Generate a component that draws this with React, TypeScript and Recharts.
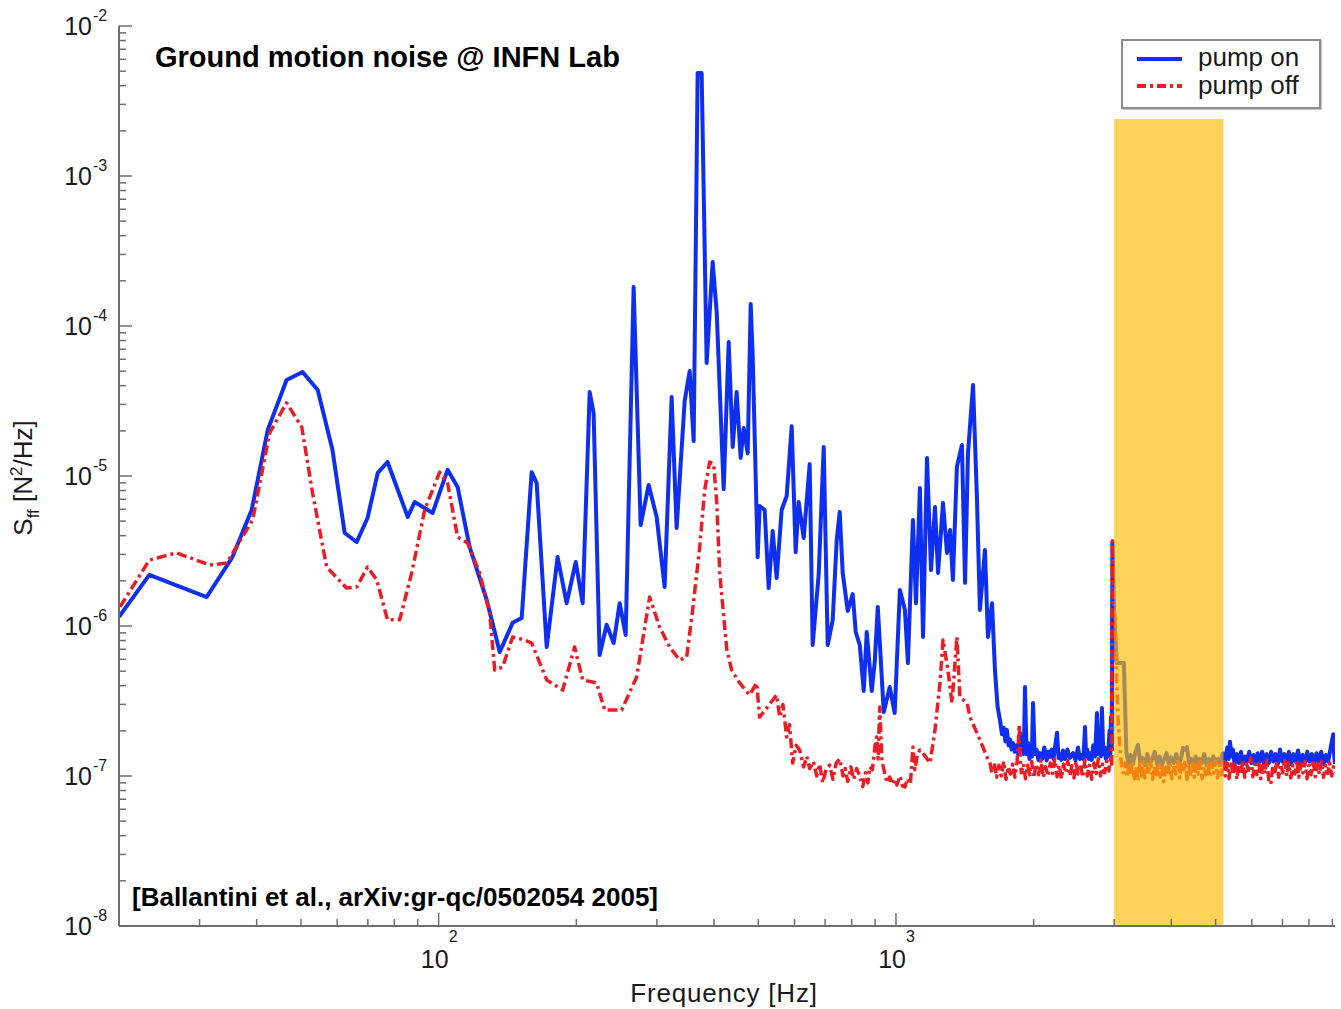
import React from 'react';
import { LineChart, Line, XAxis, YAxis, ReferenceArea, Legend } from 'recharts';

const FONT = '"Liberation Sans", Arial, Helvetica, sans-serif';
const BLUE = '#0f2ff0';
const RED = '#ec1c24';
const AXIS = '#6e6e6e';
const TEXT = '#1a1a1a';

// pump on: [frequency Hz, S_ff N^2/Hz]
const pumpOnPoints: [number, number][] = [
  [20.0, 1.15e-6], [23.3, 2.19e-6], [31.1, 1.56e-6], [35.4, 2.88e-6], [39.0, 5.93e-6], [42.3, 2.03e-5],
  [46.5, 4.37e-5], [50.4, 4.94e-5], [54.4, 3.74e-5], [58.6, 1.49e-5], [62.3, 4.17e-6], [66.2, 3.63e-6],
  [69.9, 5.25e-6], [73.6, 1.05e-5], [77.3, 1.24e-5], [85.6, 5.33e-6], [88.6, 6.71e-6], [97.0, 5.67e-6],
  [104.6, 1.1e-5], [110.0, 8.45e-6], [116.9, 3.36e-6], [127.4, 1.49e-6], [136.0, 6.71e-7], [145.1, 1.05e-6],
  [151.9, 1.13e-6], [159.7, 1.06e-5], [163.8, 8.98e-6], [172.3, 7.24e-7], [182.0, 2.88e-6], [190.5, 1.42e-6],
  [199.4, 2.67e-6], [206.5, 1.42e-6], [213.9, 3.63e-5], [218.2, 2.63e-5], [224.9, 6.41e-7], [233.0, 1.02e-6],
  [241.4, 7.7e-7], [248.8, 1.42e-6], [256.4, 8.71e-7], [266.9, 1.82e-4], [276.5, 4.71e-6], [287.9, 8.71e-6],
  [299.7, 5.33e-6], [312.0, 1.82e-6], [323.2, 3.36e-5], [331.4, 4.5e-6], [345.1, 3.16e-5], [353.9, 5.01e-5],
  [361.1, 1.71e-5], [368.4, 4.86e-3], [375.9, 4.86e-3], [385.5, 5.66e-5], [397.3, 2.67e-4], [405.5, 1.24e-4],
  [420.0, 8.18e-6], [430.7, 7.82e-5], [439.5, 1.56e-5], [448.4, 3.63e-5], [457.5, 1.32e-5], [464.5, 2.09e-5],
  [474.0, 1.42e-5], [481.2, 1.4e-4], [486.0, 6.41e-5], [498.4, 2.88e-6], [503.4, 6.31e-6], [516.3, 5.93e-6],
  [526.8, 1.79e-6], [537.5, 4.3e-6], [548.4, 2.09e-6], [562.3, 5.93e-6], [576.8, 7.36e-6], [591.5, 2.15e-5],
  [603.5, 3.11e-6], [612.7, 6.71e-6], [628.4, 3.86e-6], [647.6, 1.2e-5], [657.4, 7.47e-7], [677.7, 2.22e-6],
  [695.0, 1.56e-5], [709.1, 7.47e-7], [727.3, 1.1e-6], [742.0, 3.74e-6], [753.3, 5.75e-6], [764.7, 2.26e-6],
  [784.3, 1.26e-6], [804.3, 1.63e-6], [816.6, 9.12e-7], [833.2, 7.47e-7], [850.2, 3.69e-7], [863.1, 9.12e-7],
  [885.2, 3.69e-7], [898.6, 5.75e-7], [912.4, 1.34e-6], [940.4, 2.67e-7], [969.2, 3.92e-7], [993.6, 2.63e-7],
  [1020, 1.74e-6], [1046, 1.28e-6], [1062, 5.66e-7], [1089, 5.09e-6], [1106, 1.42e-6], [1128, 8.32e-6],
  [1146, 8.45e-7], [1169, 1.32e-5], [1193, 2.36e-6], [1217, 6.21e-6], [1236, 2.26e-6], [1267, 6.61e-6],
  [1293, 3.07e-6], [1313, 4.37e-6], [1332, 2.03e-6], [1359, 1.15e-5], [1394, 1.61e-5], [1416, 1.94e-6],
  [1437, 1.42e-5], [1474, 4.04e-5], [1503, 7.24e-6], [1526, 1.28e-6], [1565, 3.21e-6], [1589, 8.45e-7],
  [1622, 1.42e-6], [1646, 5.09e-7], [1668, 2.9e-7], [1688, 2.36e-7], [1705, 1.9e-7], [1720, 2.1e-7],
  [1735, 1.7e-7], [1748, 2.03e-7], [1762, 1.6e-7], [1775, 1.75e-7], [1790, 1.5e-7], [1802, 1.66e-7],
  [1818, 1.45e-7], [1835, 1.6e-7], [1850, 1.4e-7], [1867, 1.94e-7], [1880, 1.5e-7], [1890, 1.6e-7],
  [1903, 1.4e-7], [1915, 3.92e-7], [1930, 1.4e-7], [1944, 1.66e-7], [1958, 1.3e-7], [1970, 1.45e-7],
  [1982, 1.35e-7], [1994, 3.07e-7], [2010, 1.4e-7], [2030, 1.5e-7], [2048, 1.28e-7], [2065, 1.42e-7],
  [2088, 1.3e-7], [2110, 1.55e-7], [2135, 1.27e-7], [2155, 1.45e-7], [2172, 1.34e-7], [2190, 1.5e-7],
  [2210, 1.3e-7], [2230, 1.6e-7], [2250, 1.94e-7], [2268, 1.32e-7], [2285, 1.4e-7], [2300, 1.28e-7],
  [2318, 1.48e-7], [2345, 1.3e-7], [2370, 1.5e-7], [2400, 1.32e-7], [2439, 1.42e-7], [2470, 1.27e-7],
  [2500, 1.55e-7], [2525, 1.3e-7], [2550, 1.38e-7], [2570, 1.3e-7], [2590, 2.12e-7], [2605, 1.35e-7],
  [2620, 1.5e-7], [2640, 1.3e-7], [2656, 1.42e-7], [2680, 1.28e-7], [2700, 1.6e-7], [2725, 1.35e-7],
  [2751, 2.63e-7], [2770, 1.4e-7], [2790, 1.6e-7], [2805, 1.35e-7], [2821, 2.84e-7], [2840, 1.4e-7],
  [2860, 1.55e-7], [2876, 1.3e-7], [2893, 1.42e-7], [2910, 1.35e-7], [2930, 2.0e-7], [2942, 1.4e-7],
  [2952, 2.47e-7], [2964, 1.5e-7], [2974, 3.63e-6], [3000, 1.2e-6], [3040, 5.66e-7], [3150, 5.66e-7],
  [3190, 1.45e-7], [3225, 1.2e-7], [3260, 1.38e-7], [3300, 1.22e-7], [3340, 1.45e-7], [3381, 1.61e-7],
  [3420, 1.25e-7], [3460, 1.32e-7], [3500, 1.18e-7], [3545, 1.4e-7], [3590, 1.22e-7], [3635, 1.3e-7],
  [3680, 1.45e-7], [3725, 1.2e-7], [3770, 1.35e-7], [3815, 1.18e-7], [3860, 1.3e-7], [3905, 1.42e-7],
  [3950, 1.2e-7], [4000, 1.33e-7], [4050, 1.22e-7], [4100, 1.4e-7], [4150, 1.2e-7], [4200, 1.3e-7],
  [4243, 1.54e-7], [4290, 1.5e-7], [4329, 1.56e-7], [4375, 1.22e-7], [4420, 1.3e-7], [4470, 1.18e-7],
  [4520, 1.35e-7], [4570, 1.2e-7], [4620, 1.3e-7], [4670, 1.22e-7], [4720, 1.4e-7], [4775, 1.18e-7],
  [4830, 1.3e-7], [4885, 1.2e-7], [4940, 1.35e-7], [5000, 1.22e-7], [5060, 1.3e-7], [5120, 1.2e-7],
  [5180, 1.42e-7], [5240, 1.25e-7], [5300, 1.55e-7], [5340, 1.3e-7], [5375, 1.69e-7], [5420, 1.35e-7],
  [5458, 1.5e-7], [5500, 1.2e-7], [5560, 1.4e-7], [5620, 1.22e-7], [5680, 1.45e-7], [5740, 1.2e-7],
  [5800, 1.35e-7], [5860, 1.25e-7], [5920, 1.45e-7], [5985, 1.22e-7], [6050, 1.38e-7], [6115, 1.2e-7],
  [6180, 1.42e-7], [6250, 1.25e-7], [6320, 1.45e-7], [6390, 1.2e-7], [6460, 1.4e-7], [6535, 1.22e-7],
  [6610, 1.45e-7], [6685, 1.25e-7], [6760, 1.4e-7], [6840, 1.2e-7], [6914, 1.5e-7], [6990, 1.25e-7],
  [7070, 1.4e-7], [7150, 1.22e-7], [7230, 1.45e-7], [7315, 1.2e-7], [7400, 1.4e-7], [7485, 1.25e-7],
  [7570, 1.48e-7], [7660, 1.22e-7], [7750, 1.38e-7], [7840, 1.2e-7], [7930, 1.45e-7], [8025, 1.25e-7],
  [8120, 1.4e-7], [8215, 1.2e-7], [8310, 1.42e-7], [8410, 1.25e-7], [8510, 1.45e-7], [8610, 1.2e-7],
  [8710, 1.38e-7], [8810, 1.25e-7], [8910, 1.5e-7], [8990, 1.75e-7], [9040, 1.9e-7], [9080, 1.4e-7],
  [9120, 1.2e-7],
];

// pump off: [frequency Hz, S_ff N^2/Hz]
const pumpOffPoints: [number, number][] = [
  [20.1, 1.34e-6], [23.3, 2.75e-6], [26.7, 3.07e-6], [31.6, 2.55e-6], [34.4, 2.63e-6], [39.2, 5.09e-6],
  [42.7, 1.94e-5], [46.5, 3.07e-5], [50.2, 2.12e-5], [53.0, 7.7e-6], [56.9, 2.47e-6], [62.9, 1.79e-6],
  [66.2, 1.82e-6], [69.9, 2.47e-6], [73.2, 2.03e-6], [77.3, 1.1e-6], [82.2, 1.1e-6], [87.3, 2.26e-6],
  [93.2, 5.93e-6], [100.5, 1.06e-5], [104.6, 8.98e-6], [110.0, 3.92e-6], [115.7, 3.58e-6], [122.9, 2.26e-6],
  [129.3, 1.22e-6], [132.6, 5.09e-7], [138.0, 5.33e-7], [145.1, 8.45e-7], [154.2, 8.07e-7], [159.7, 7.7e-7],
  [172.3, 4.37e-7], [186.7, 3.74e-7], [198.3, 7.24e-7], [206.5, 4.37e-7], [221.6, 4.17e-7], [230.7, 2.75e-7],
  [251.3, 2.75e-7], [271.0, 4.57e-7], [289.3, 1.56e-6], [304.2, 9.85e-7], [320.0, 7.24e-7], [336.5, 5.93e-7],
  [348.6, 6.2e-7], [359.3, 1.28e-6], [372.2, 3.36e-6], [381.7, 8.07e-6], [391.4, 1.24e-5], [399.4, 1.2e-5],
  [405.5, 6.71e-6], [411.7, 2.26e-6], [426.5, 7.03e-7], [437.2, 5.09e-7], [455.2, 4.17e-7], [478.6, 3.47e-7],
  [495.9, 4.17e-7], [503.4, 2.47e-7], [548.4, 3.47e-7], [556.8, 2.47e-7], [566, 3.0e-7], [576.8, 1.82e-7],
  [585, 2.2e-7], [594.5, 1.22e-7], [605, 1.6e-7], [615.8, 1.49e-7], [628, 1.15e-7], [638, 1.35e-7],
  [647.6, 1.12e-7], [660, 1.25e-7], [670.9, 1.0e-7], [681, 1.2e-7], [691.4, 9.0e-8], [703, 1.1e-7],
  [716.1, 1.18e-7], [728, 9.5e-8], [740, 1.22e-7], [753.3, 1.3e-7], [766, 1.0e-7], [775, 1.12e-7],
  [784.3, 9.2e-8], [797, 1.15e-7], [808, 9.5e-8], [820.4, 1.12e-7], [833, 1.0e-7], [845.9, 8.5e-8],
  [858, 1.05e-7], [868, 9.0e-8], [876.2, 1.15e-7], [888, 1.1e-7], [900, 1.6e-7], [907.7, 1.82e-7],
  [914, 1.3e-7], [921.3, 2.88e-7], [932, 1.25e-7], [944.8, 1.05e-7], [956, 9.0e-8], [969.2, 9.85e-8],
  [982, 8.8e-8], [995, 9.5e-8], [1005, 8.7e-8], [1020, 1.0e-7], [1033, 8.6e-8], [1046, 8.45e-8],
  [1060, 9.6e-8], [1075, 8.8e-8], [1089, 1.56e-7], [1100, 1.1e-7], [1114, 1.4e-7], [1128, 1.49e-7],
  [1146, 1.42e-7], [1187, 1.22e-7], [1217, 2.03e-7], [1248, 4.17e-7], [1267, 8.07e-7], [1299, 5.09e-7],
  [1326, 3.07e-7], [1359, 8.45e-7], [1380, 3.36e-7], [1430, 3.07e-7], [1452, 2.47e-7], [1526, 1.74e-7],
  [1581, 1.34e-7], [1605, 1.22e-7], [1620, 1.05e-7], [1640, 1.22e-7], [1660, 9.8e-8], [1680, 1.18e-7],
  [1700, 1.0e-7], [1720, 1.25e-7], [1740, 9.5e-8], [1760, 1.15e-7], [1780, 1.03e-7], [1800, 1.2e-7],
  [1820, 9.8e-8], [1840, 1.25e-7], [1850, 1.6e-7], [1860, 2.2e-7], [1870, 1.3e-7], [1880, 1.05e-7],
  [1900, 1.2e-7], [1920, 9.6e-8], [1940, 1.18e-7], [1960, 1.02e-7], [1980, 1.25e-7], [2000, 9.7e-8],
  [2025, 1.2e-7], [2050, 1.02e-7], [2075, 1.28e-7], [2100, 9.8e-8], [2125, 1.15e-7], [2150, 1.0e-7],
  [2175, 1.22e-7], [2200, 1.04e-7], [2225, 1.3e-7], [2250, 9.9e-8], [2275, 1.18e-7], [2300, 9.6e-8],
  [2325, 1.2e-7], [2350, 1.05e-7], [2375, 1.27e-7], [2400, 1.0e-7], [2425, 1.17e-7], [2450, 9.7e-8],
  [2475, 1.25e-7], [2500, 1.03e-7], [2530, 1.2e-7], [2560, 9.8e-8], [2590, 1.28e-7], [2620, 1.0e-7],
  [2650, 1.18e-7], [2680, 9.5e-8], [2710, 1.22e-7], [2740, 1.04e-7], [2770, 1.3e-7], [2800, 1.0e-7],
  [2830, 1.2e-7], [2860, 1.05e-7], [2890, 1.25e-7], [2920, 1.08e-7], [2945, 1.3e-7], [2962, 1.2e-7],
  [2974, 3.7e-6], [2990, 1.5e-6], [3012, 1.1e-6], [3040, 4.0e-7], [3060, 2.4e-7], [3085, 1.6e-7],
  [3110, 1.2e-7], [3140, 1.05e-7], [3170, 1.22e-7], [3200, 9.8e-8], [3230, 1.18e-7], [3260, 1.02e-7],
  [3290, 1.25e-7], [3320, 9.6e-8], [3350, 1.15e-7], [3380, 9.3e-8], [3410, 1.2e-7], [3440, 1.0e-7],
  [3470, 1.24e-7], [3500, 9.7e-8], [3535, 1.18e-7], [3570, 1.03e-7], [3605, 1.26e-7], [3640, 9.5e-8],
  [3675, 1.16e-7], [3710, 1.02e-7], [3745, 1.22e-7], [3780, 9.8e-8], [3815, 1.2e-7], [3850, 9.2e-8],
  [3890, 1.15e-7], [3930, 1.0e-7], [3970, 1.24e-7], [4010, 9.6e-8], [4050, 1.17e-7], [4090, 1.03e-7],
  [4130, 1.25e-7], [4170, 9.7e-8], [4210, 1.2e-7], [4250, 1.05e-7], [4290, 1.27e-7], [4330, 9.5e-8],
  [4370, 1.16e-7], [4410, 1.0e-7], [4450, 1.22e-7], [4490, 9.8e-8], [4535, 1.18e-7], [4580, 1.03e-7],
  [4625, 1.25e-7], [4670, 9.6e-8], [4715, 1.16e-7], [4760, 1.02e-7], [4805, 1.24e-7], [4850, 9.8e-8],
  [4900, 1.2e-7], [4950, 1.04e-7], [5000, 1.26e-7], [5050, 9.7e-8], [5100, 1.18e-7], [5150, 1.02e-7],
  [5200, 1.3e-7], [5250, 1.0e-7], [5300, 1.22e-7], [5350, 9.6e-8], [5400, 1.25e-7], [5455, 1.02e-7],
  [5510, 1.2e-7], [5565, 9.5e-8], [5620, 1.18e-7], [5675, 1.03e-7], [5730, 1.28e-7], [5790, 9.8e-8],
  [5850, 1.2e-7], [5910, 1.05e-7], [5970, 1.32e-7], [6030, 9.9e-8], [6090, 1.2e-7], [6150, 1.02e-7],
  [6210, 1.26e-7], [6275, 9.6e-8], [6340, 1.18e-7], [6405, 1.04e-7], [6470, 1.28e-7], [6535, 9.4e-8],
  [6600, 8.8e-8], [6665, 1.15e-7], [6730, 1.02e-7], [6800, 1.25e-7], [6870, 9.8e-8], [6940, 1.2e-7],
  [7010, 1.05e-7], [7080, 1.3e-7], [7150, 1.0e-7], [7225, 1.22e-7], [7300, 9.7e-8], [7375, 1.18e-7],
  [7450, 1.03e-7], [7525, 1.27e-7], [7600, 9.8e-8], [7680, 1.2e-7], [7760, 1.05e-7], [7840, 1.25e-7],
  [7920, 9.6e-8], [8000, 1.18e-7], [8085, 1.02e-7], [8170, 1.28e-7], [8255, 9.9e-8], [8340, 1.2e-7],
  [8430, 1.03e-7], [8520, 1.25e-7], [8610, 9.8e-8], [8700, 1.18e-7], [8790, 1.04e-7], [8880, 1.22e-7],
  [8970, 1.0e-7], [9050, 1.15e-7], [9120, 1.05e-7],
];

const xTicks = [20, 30, 40, 50, 60, 70, 80, 90, 100, 200, 300, 400, 500, 600, 700, 800, 900,
  1000, 2000, 3000, 4000, 5000, 6000, 7000, 8000, 9000];
const xLabelTicks = [100, 1000];
const xLabelExponents = ['2', '3'];
const yDecades = [1e-8, 1e-7, 1e-6, 1e-5, 1e-4, 1e-3, 1e-2];
const yLabelExponents = ['-8', '-7', '-6', '-5', '-4', '-3', '-2'];
const yMinorMantissas = [2, 3, 4, 5, 6, 7, 8, 9];

const xDomain = [20, 9120];
const yDomain = [1e-8, 1e-2];
const bandFrom = 3000;
const bandTo = 5200;
const bandTop = 2.4e-3;

const yTicks: number[] = [];
yDecades.forEach((d, i) => {
  yTicks.push(d);
  if (i < yDecades.length - 1) yMinorMantissas.forEach((m) => yTicks.push(d * m));
});

const pumpOnData = pumpOnPoints.map(([f, v]) => ({ f, v }));
const pumpOffData = pumpOffPoints.map(([f, v]) => ({ f, v }));

const isMajor = (v: number) => {
  const l = Math.log10(v);
  return Math.abs(l - Math.round(l)) < 1e-6;
};

const BottomTick = (props: any) => {
  const { x, y, payload } = props;
  const v = payload.value;
  const idx = xLabelTicks.indexOf(v);
  const major = isMajor(v);
  return (
    <g>
      <line x1={x} x2={x} y1={y} y2={y - (major ? 13 : 7)} stroke={AXIS} strokeWidth={1.5} />
      {idx >= 0 && (
        <g fontFamily={FONT} fill={TEXT}>
          <text x={x + 10} y={y + 42} textAnchor="end" fontSize={25}>10</text>
          <text x={x + 10} y={y + 16} textAnchor="start" fontSize={16}>{xLabelExponents[idx]}</text>
        </g>
      )}
    </g>
  );
};

const TopTick = (props: any) => {
  const { x, y, payload } = props;
  const major = isMajor(payload.value);
  return <line x1={x} x2={x} y1={y} y2={y + (major ? 13 : 7)} stroke={AXIS} strokeWidth={1.5} />;
};

const LeftTick = (props: any) => {
  const { x, y, payload } = props;
  const v = payload.value;
  const idx = yDecades.indexOf(v);
  return (
    <g>
      <line x1={x} x2={x + (idx >= 0 ? 13 : 7)} y1={y} y2={y} stroke={AXIS} strokeWidth={1.5} />
      {idx >= 0 && (
        <g fontFamily={FONT} fill={TEXT}>
          <text x={x - 27} y={y + 9} textAnchor="end" fontSize={25}>10</text>
          <text x={x - 26} y={y - 5} textAnchor="start" fontSize={16}>{yLabelExponents[idx]}</text>
        </g>
      )}
    </g>
  );
};

const RightTick = (props: any) => {
  const { x, y, payload } = props;
  const major = yDecades.indexOf(payload.value) >= 0;
  return <line x1={x} x2={x - (major ? 13 : 7)} y1={y} y2={y} stroke={AXIS} strokeWidth={1.5} />;
};

const LegendBox = () => (
  <div
    style={{
      width: 200, height: 70, boxSizing: 'border-box', border: '2px solid #8c8c8c', background: '#fff',
      boxShadow: '1px 1px 1px #c8c8c8', position: 'relative', fontFamily: FONT, fontSize: 26, color: TEXT,
    }}
  >
    <svg width={196} height={66} style={{ position: 'absolute', left: 0, top: 0 }}>
      <line x1={14} x2={59} y1={18} y2={18} stroke={BLUE} strokeWidth={4} />
      <line x1={14} x2={59} y1={45} y2={45} stroke={RED} strokeWidth={4} strokeDasharray="9 4 3 4" />
    </svg>
    <div style={{ position: 'absolute', left: 75, top: 1, lineHeight: '30px', whiteSpace: 'nowrap' }}>pump on</div>
    <div style={{ position: 'absolute', left: 75, top: 29, lineHeight: '30px', whiteSpace: 'nowrap' }}>pump off</div>
  </div>
);

export default function App() {
  return (
    <div style={{ position: 'absolute', left: 0, top: 0, width: 1341, height: 1009, background: '#fff' }}>
      <LineChart width={1341} height={1009} margin={{ top: 26, right: 6, bottom: 23, left: 59 }}>
        <XAxis
          xAxisId="b" dataKey="f" type="number" scale="log" domain={xDomain} allowDataOverflow
          ticks={xTicks} interval={0} tick={<BottomTick />} tickLine={false} tickSize={0} tickMargin={0}
          height={60} axisLine={{ stroke: AXIS, strokeWidth: 2 }}
        />
        <XAxis
          xAxisId="t" orientation="top" dataKey="f" type="number" scale="log" domain={xDomain} allowDataOverflow
          ticks={xTicks} interval={0} tick={<TopTick />} tickLine={false} tickSize={0} tickMargin={0}
          height={0} axisLine={{ stroke: AXIS, strokeWidth: 2 }}
        />
        <YAxis
          yAxisId="l" type="number" scale="log" domain={yDomain} allowDataOverflow
          ticks={yTicks} interval={0} tick={<LeftTick />} tickLine={false} tickSize={0} tickMargin={0}
          width={60} axisLine={{ stroke: AXIS, strokeWidth: 2 }}
        />
        <YAxis
          yAxisId="r" orientation="right" type="number" scale="log" domain={yDomain} allowDataOverflow
          ticks={yTicks} interval={0} tick={<RightTick />} tickLine={false} tickSize={0} tickMargin={0}
          width={0} axisLine={{ stroke: AXIS, strokeWidth: 2 }}
        />
        <Line
          xAxisId="b" yAxisId="l" data={pumpOnData} dataKey="v" name="pump on" type="linear"
          stroke={BLUE} strokeWidth={4} dot={false} strokeLinejoin="round" isAnimationActive={false}
        />
        <Line
          xAxisId="b" yAxisId="l" data={pumpOffData} dataKey="v" name="pump off" type="linear"
          stroke={RED} strokeWidth={3.5} strokeDasharray="10 4 3 4" dot={false} strokeLinejoin="round"
          isAnimationActive={false}
        />
        <ReferenceArea
          xAxisId="b" yAxisId="l" x1={bandFrom} x2={bandTo} y1={yDomain[0]} y2={bandTop}
          fill="#fcbb01" fillOpacity={0.65} stroke="none" zIndex={450}
        />
        <Legend
          layout="horizontal" verticalAlign="middle" align="center" width={200} height={70}
          wrapperStyle={{ position: 'absolute', left: 1121, top: 39, width: 200, height: 70 }}
          content={<LegendBox />}
        />
        <text x={155} y={67} fontFamily={FONT} fontWeight="bold" fontSize={29} fill="#000">
          Ground motion noise @ INFN Lab
        </text>
        <text x={132} y={906} fontFamily={FONT} fontWeight="bold" fontSize={26} fill="#000">
          [Ballantini et al., arXiv:gr-qc/0502054 2005]
        </text>
        <text x={724} y={1002} textAnchor="middle" fontFamily={FONT} fontSize={26} fill={TEXT} letterSpacing={0.8}>
          Frequency [Hz]
        </text>
        <text
          x={32} y={478} textAnchor="middle" fontFamily={FONT} fontSize={26} fill={TEXT}
          transform="rotate(-90 32 478)"
        >
          S<tspan dy={7} fontSize={17}>ff</tspan>
          <tspan dy={-7}> [N</tspan>
          <tspan dy={-10} fontSize={17}>2</tspan>
          <tspan dy={10}>/Hz]</tspan>
        </text>
      </LineChart>
    </div>
  );
}
